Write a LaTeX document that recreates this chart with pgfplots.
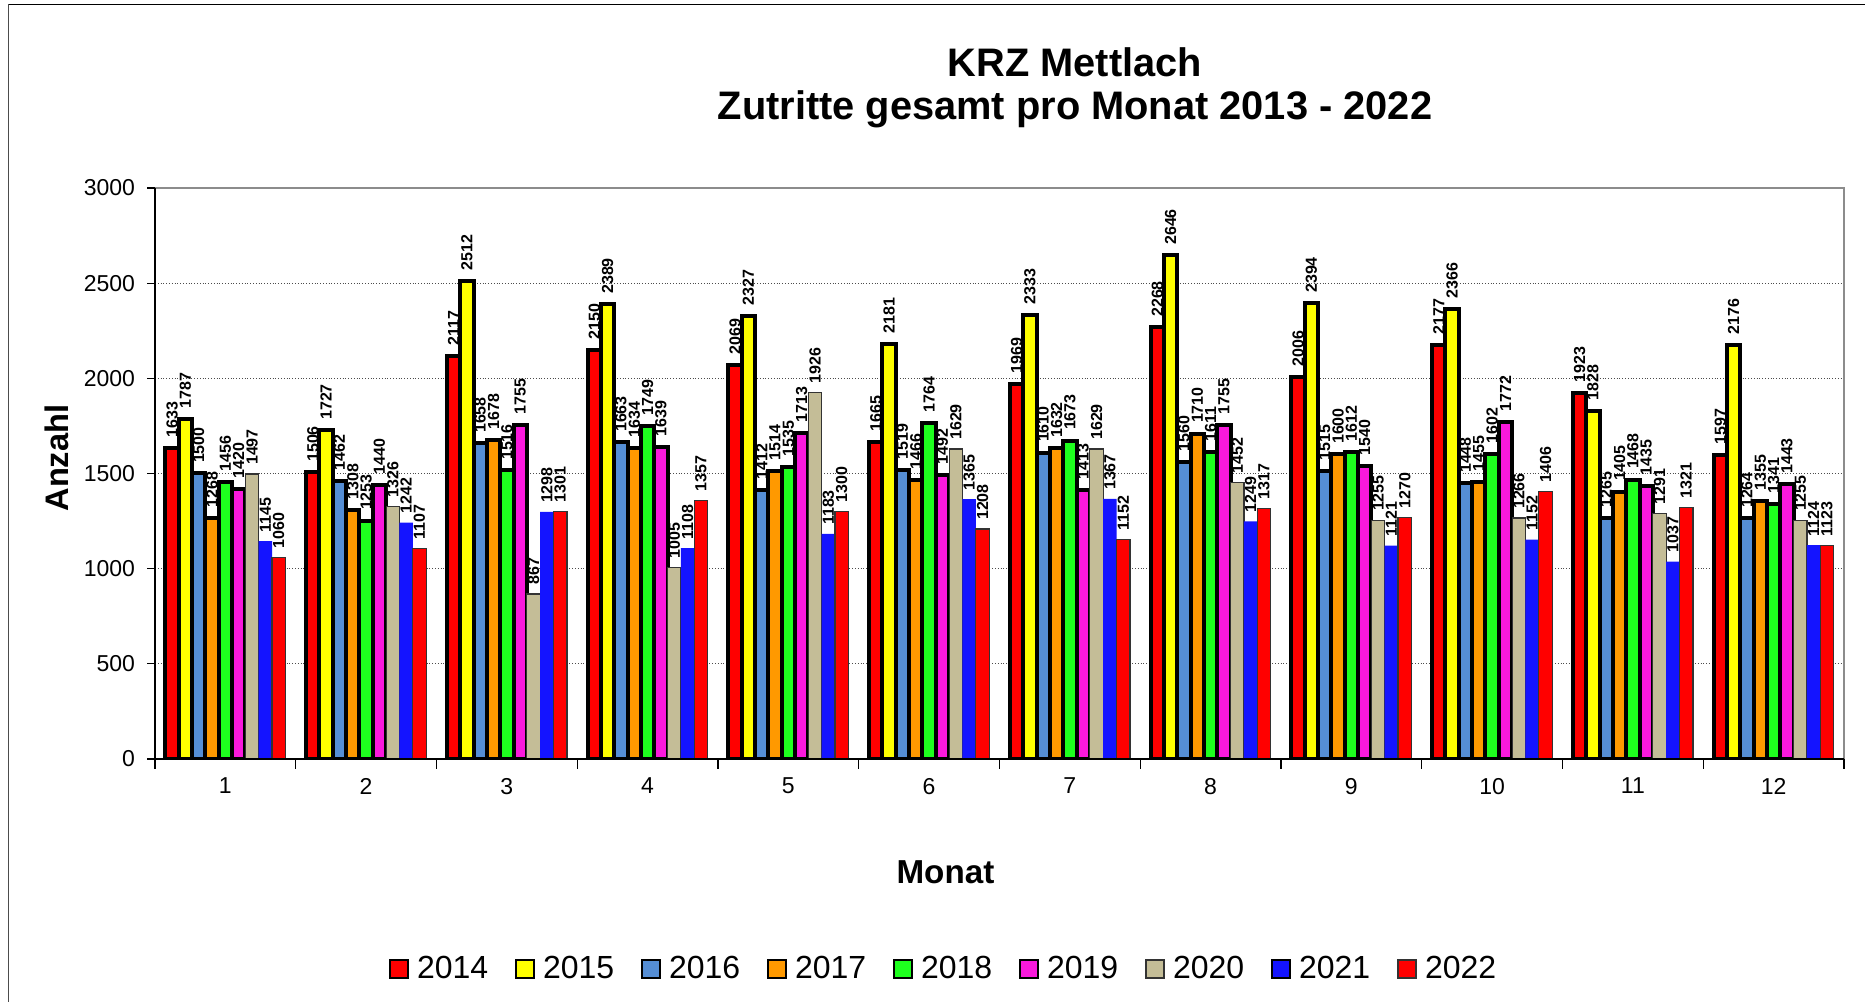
\documentclass[border=0pt]{standalone}
\usepackage{fontspec}
\setmainfont{Liberation Sans}
\usepackage{pgfplots}
\usepackage{pgfplotstable}
\pgfplotsset{compat=1.18}
\definecolor{c14}{RGB}{255,0,0}
\definecolor{c15}{RGB}{255,255,0}
\definecolor{c16}{RGB}{85,142,213}
\definecolor{c17}{RGB}{255,153,0}
\definecolor{c18}{RGB}{30,255,30}
\definecolor{c19}{RGB}{250,25,220}
\definecolor{c20}{RGB}{196,189,151}
\definecolor{c21}{RGB}{20,20,255}
\definecolor{c22}{RGB}{255,0,0}
\pgfplotstableread{
m  a    b    c    d    e    f    g    h    i
1  1633 1787 1500 1268 1456 1420 1497 1145 1060
2  1506 1727 1462 1308 1253 1440 1326 1242 1107
3  2117 2512 1658 1678 1516 1755 867  1298 1301
4  2150 2389 1663 1634 1749 1639 1005 1108 1357
5  2069 2327 1412 1514 1535 1713 1926 1183 1300
6  1665 2181 1519 1466 1764 1492 1629 1365 1208
7  1969 2333 1610 1632 1673 1413 1629 1367 1152
8  2268 2646 1560 1710 1611 1755 1452 1249 1317
9  2006 2394 1515 1600 1612 1540 1255 1121 1270
10 2177 2366 1448 1455 1602 1772 1266 1152 1406
11 1923 1828 1265 1405 1468 1435 1291 1037 1321
12 1597 2176 1264 1355 1341 1443 1255 1124 1123
}\data
\begin{document}
\begin{tikzpicture}
\useasboundingbox (0pt,0pt) rectangle (932.5pt,501pt);
\draw[black!70, line width=0.8pt] (4.25pt,0pt) -- (4.25pt,498.75pt);
\draw[black, line width=0.8pt] (4.25pt,498.75pt) -- (932.5pt,498.75pt);
\node[font=\bfseries\fontsize{19.9}{22}\selectfont] at (537.5pt,470pt) {KRZ Mettlach};
\node[font=\bfseries\fontsize{19.9}{22}\selectfont] at (537.5pt,446.3pt) {Zutritte gesamt pro Monat 2013 - 2022};
\begin{axis}[
  at={(77.5pt,121.5pt)}, anchor=south west,
  width=844.5pt, height=285.5pt, scale only axis,
  ymin=0, ymax=3000, ytick={0,500,...,3000},
  xmin=0.5, xmax=12.5, xtick={1,...,12},
  minor xtick={0.5,1.5,...,12.5},
  xtick pos=bottom, ytick pos=left,
  major x tick style={draw=none},
  minor x tick style={black, line width=0.6pt},
  y tick style={black, line width=0.6pt},
  minor tick length=5pt, major tick length=4pt,
  tick align=outside,
  ybar=0pt, bar width=6.67pt,
  ymajorgrids, grid style={black!70, densely dotted, line width=0.5pt},
  axis line style={draw=none},
  /pgf/number format/1000 sep={},
  /pgf/number format/assume math mode=true,
  ticklabel style={font=\fontsize{11.5}{13}\selectfont},
  xticklabel style={yshift=-2pt},
  yticklabel style={xshift=-2.5pt},
  ylabel={Anzahl},
  ylabel style={at={(axis description cs:-0.058,0.527)}, anchor=center, font=\bfseries\fontsize{16.3}{18}\selectfont},
  xlabel={Monat},
  xlabel style={at={(axis description cs:0.468,-0.198)}, anchor=center, font=\bfseries\fontsize{16.6}{18}\selectfont},
  nodes near coords,
  every node near coord/.append style={rotate=90, anchor=west, black, font=\bfseries\fontsize{8}{9}\selectfont, inner ysep=1pt, inner xsep=4.3pt},
  legend columns=9,
  legend style={draw=none, at={(axis description cs:0.4667,-0.368)}, anchor=center,
    font=\fontsize{16}{18}\selectfont, nodes={inner sep=0.5pt},
    /tikz/every odd column/.append style={column sep=3.5pt},
    /tikz/every even column/.append style={column sep=13pt}},
  legend image code/.code={\draw[#1, line width=0.9pt] (0pt,-4.5pt) rectangle (9pt,4.5pt);},
  after end axis/.code={
    \draw[black!45, line width=1.4pt] (rel axis cs:0,1) -- (rel axis cs:1,1) -- (rel axis cs:1,0);
    \draw[black, line width=0.6pt] (rel axis cs:0,1) -- (rel axis cs:0,0) -- (rel axis cs:1,0);
  },
]
\addplot[fill=c14, draw=black, line width=2pt] table[x=m, y=a] {\data};
\addplot[fill=c15, draw=black, line width=2pt] table[x=m, y=b] {\data};
\addplot[fill=c16, draw=black, line width=2pt] table[x=m, y=c] {\data};
\addplot[fill=c17, draw=black, line width=2pt] table[x=m, y=d] {\data};
\addplot[fill=c18, draw=black, line width=2pt] table[x=m, y=e] {\data};
\addplot[fill=c19, draw=black, line width=2pt] table[x=m, y=f] {\data};
\addplot[fill=c20, draw=black!80, line width=0.6pt] table[x=m, y=g] {\data};
\addplot[fill=c21, draw=none] table[x=m, y=h] {\data};
\addplot[fill=c22, draw=black!80, line width=0.6pt] table[x=m, y=i] {\data};
\legend{2014,2015,2016,2017,2018,2019,2020,2021,2022}
\end{axis}
\end{tikzpicture}
\end{document}
